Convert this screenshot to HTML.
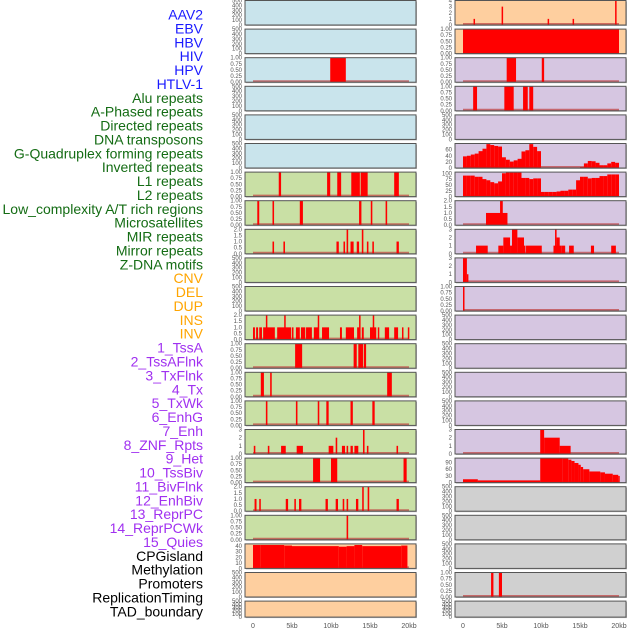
<!DOCTYPE html>
<html><head><meta charset="utf-8"><style>
body{margin:0;background:#fff;width:630px;height:630px;overflow:hidden}
svg text{font-family:"Liberation Sans",sans-serif}
</style></head><body>
<svg id="chart" width="630" height="630" xmlns="http://www.w3.org/2000/svg"></svg>
<script>
// ---- data ----
const trackLabels = ["AAV2","EBV","HBV","HIV","HPV","HTLV-1","Alu repeats","A-Phased repeats","Directed repeats","DNA transposons","G-Quadruplex forming repeats","Inverted repeats","L1 repeats","L2 repeats","Low_complexity A/T rich regions","Microsatellites","MIR repeats","Mirror repeats","Z-DNA motifs","CNV","DEL","DUP","INS","INV","1_TssA","2_TssAFlnk","3_TxFlnk","4_Tx","5_TxWk","6_EnhG","7_Enh","8_ZNF_Rpts","9_Het","10_TssBiv","11_BivFlnk","12_EnhBiv","13_ReprPC","14_ReprPCWk","15_Quies","CPGisland","Methylation","Promoters","ReplicationTiming","TAD_boundary"];
const labelColors = ["#1a1aff","#1a1aff","#1a1aff","#1a1aff","#1a1aff","#1a1aff","#146c14","#146c14","#146c14","#146c14","#146c14","#146c14","#146c14","#146c14","#146c14","#146c14","#146c14","#146c14","#146c14","#ffa500","#ffa500","#ffa500","#ffa500","#ffa500","#a030f0","#a030f0","#a030f0","#a030f0","#a030f0","#a030f0","#a030f0","#a030f0","#a030f0","#a030f0","#a030f0","#a030f0","#a030f0","#a030f0","#a030f0","#000","#000","#000","#000","#000"];
const xTickKb = [0,5,10,15,20];
const xTickLabels = ["0","5kb","10kb","15kb","20kb"];
const tickSets = {
  e:[0,100,200,300,400,500], p:[0,0.25,0.5,0.75,1], h:[0,0.5,1,1.5,2], t:[0,1,2,3], f:[0,1,2,3,4],
  c:[0,10,20,30,40], g:[0,20,40,60], q:[0,25,50,75,100], n:[0,30,60,90]
};
const tickFmt = {e:0,p:2,h:1,t:0,f:0,c:0,g:0,q:0,n:0};
const panelSpec = [
 [0,0,"b","e",500],[0,1,"b","e",500],[0,2,"b","p",1],[0,3,"b","e",500],[0,4,"b","e",500],[0,5,"b","e",500],
 [0,6,"g","p",1],[0,7,"g","p",1],[0,8,"g","h",2],[0,9,"g","e",500],[0,10,"g","e",500],[0,11,"g","h",2],
 [0,12,"g","p",1],[0,13,"g","p",1],[0,14,"g","p",1],[0,15,"g","t",3],[0,16,"g","p",1],[0,17,"g","h",2],
 [0,18,"g","p",1],[0,19,"o","c",44],[0,20,"o","e",500],[0,21,"o","e",500],
 [1,0,"o","f",4],[1,1,"o","p",1],[1,2,"v","p",1],[1,3,"v","p",1],[1,4,"v","e",500],[1,5,"v","g",80],
 [1,6,"v","q",105],[1,7,"v","h",2],[1,8,"v","t",3],[1,9,"v","t",3],[1,10,"v","p",1],[1,11,"v","e",500],
 [1,12,"v","e",500],[1,13,"v","e",500],[1,14,"v","e",500],[1,15,"v","t",3],[1,16,"v","n",110],[1,17,"k","e",500],
 [1,18,"k","e",500],[1,19,"k","e",500],[1,20,"k","p",1],[1,21,"k","e",500]
];
const segHIV = [[9.9,11.9,1]];
const segL1 = [[3.3,3.6,1],[9.5,9.9,1],[10.8,11.3,1],[12.6,13.7,1],[13.8,14.7,1],[18.1,18.7,1]];
const segL2 = [[0.55,0.8,1],[2.5,2.7,1],[6.0,6.4,1],[13.6,13.9,1],[15.1,15.3,1],[17.0,17.2,1]];
const segLowc = [[2.5,2.7,1],[3.9,4.1,1],[10.7,11.0,1],[11.6,11.8,1],[12.0,12.2,2],[12.5,12.9,1],[13.3,13.6,1],[13.95,14.15,2],[14.6,14.8,1],[15.3,15.5,1],[18.4,18.7,1]];
const segMirror = [[0,0.25,1],[0.4,0.65,1],[0.8,1.15,1],[1.3,2.8,1],[1.65,1.8,2],[3.1,4.9,1],[4.0,4.15,2],[5.0,5.15,1],[5.5,6.0,1],[6.15,6.7,1],[6.8,7.55,1],[7.8,8.45,1],[8.3,8.45,2],[8.85,9.75,1],[11.15,11.4,1],[11.9,12.95,1],[13.35,13.7,1],[13.6,13.75,2],[13.95,14.2,1],[15.0,15.8,1],[15.35,15.5,2],[16.0,16.15,1],[16.9,17.45,1],[18.1,18.6,1],[19.1,19.25,1],[19.85,20.0,1]];
const segZdna = [[5.4,6.3,1],[12.9,13.3,1],[13.5,14.1,1],[14.2,14.5,1]];
const segCnv = [[1.0,1.4,1],[2.2,2.4,1],[17.2,17.8,1]];
const segDel = [[1.65,1.85,1],[5.5,5.7,1],[8.3,8.5,1],[9.4,9.7,1],[12.5,12.8,1],[15.3,15.6,1]];
const segDup = [[0.1,0.3,1],[1.9,2.1,1],[3.6,4.2,1],[5.6,6.4,1],[9.7,10.3,1],[10.6,10.8,2],[11.4,11.8,1],[12.0,12.2,1],[12.5,12.8,1],[13.0,13.5,1],[14.1,14.3,3],[14.6,14.8,1],[18.4,18.6,1]];
const segIns = [[7.7,8.6,1],[10.0,10.8,1],[19.3,19.7,1]];
const segInv = [[0.2,0.45,1],[0.8,1.0,1],[4.2,4.5,1],[5.3,5.5,1],[5.9,6.2,1],[9.3,9.6,1],[10.6,10.9,1],[11.5,11.7,1],[12.0,12.2,1],[13.2,13.5,1],[14.0,14.2,2],[14.7,14.9,2],[18.4,18.7,1]];
const segTssA = [[12.0,12.2,1]];
const segCpg = [[0,1,42],[1,4,42],[4,5,41],[5,11,40],[11,12,39],[12,13,40],[13,14,42],[14,19,40],[19,19.8,41]];
const segAav = [[1.35,1.5,1],[4.95,5.1,3],[10.85,11.0,1],[14.05,14.2,1],[19.5,19.65,4]];
const segEbv = [[0,20,1]];
const segHbv = [[5.6,6.8,1],[10.1,10.4,1]];
const segHpv = [[1.3,1.8,1],[5.3,6.5,1],[7.7,8.3,1],[8.5,9.0,1]];
const gqStarts = [0,0.5,1,1.5,2,2.5,3,3.5,4,4.5,5,5.5,6,6.5,7,7.5,8,8.5,9,9.5,15,15.5,16,16.5,17,17.5,18,18.5,19,19.5];
const gqValues = [38,40,44,47,55,63,78,75,72,70,35,27,21,25,30,54,58,78,69,55,3,15,23,22,17,9,9,15,20,17];
const invStarts = [0,0.5,1,1.5,2,2.5,3,3.5,4,4.5,5,5.5,6,6.5,7,7.5,8,8.5,9,9.5,10,10.5,11,11.5,12,12.5,13,13.5,14,14.5,15,15.5,16,16.5,17,17.5,18,18.5,19,19.5];
const invValues = [90,90,90,85,85,75,70,62,57,65,100,103,103,103,103,80,80,75,78,78,20,20,20,20,22,25,25,30,30,70,85,85,78,80,80,88,88,95,95,95];
const segL1r = [[2.95,5.7,1],[4.75,5.1,2]];
const segMirR = [[1.67,3.17,1],[4.53,5.17,1],[5.17,6.03,2],[6.03,6.28,1],[6.28,6.97,3],[6.97,7.82,2],[7.82,7.99,1],[8.08,10.1,1],[11.6,12.6,1],[11.8,12.0,3],[12.0,12.4,2],[12.6,13.1,1],[13.6,14.2,1],[16.4,16.8,1],[19.0,19.6,1]];
const segMirror2 = [[0,0.5,3],[0.5,0.65,1]];
const segZ2 = [[0,0.15,1]];
const seg8Znf = [[9.9,10.4,3],[10.4,12.4,2],[12.4,13.8,1]];
const segHet = [[0,1.9,15],[1.9,9.9,10],[9.9,12.8,110],[12.8,13.5,108],[13.5,13.9,103],[13.9,14.3,97],[14.3,14.8,88],[14.8,15.1,80],[15.1,15.4,70],[15.4,16.2,60],[16.2,17.6,50],[17.6,18.2,46],[18.2,19.2,40],[19.2,19.9,35],[19.9,20.0,30]];
const segProm = [[3.6,3.9,1],[4.6,5.0,1]];
function stepsToSegs(starts, vals){return starts.map((s,i)=>[s,s+0.5,vals[i]]);}
const panelSegs = {
 "0-2":segHIV,"0-6":segL1,"0-7":segL2,"0-8":segLowc,"0-11":segMirror,"0-12":segZdna,"0-13":segCnv,"0-14":segDel,
 "0-15":segDup,"0-16":segIns,"0-17":segInv,"0-18":segTssA,"0-19":segCpg,
 "1-0":segAav,"1-1":segEbv,"1-2":segHbv,"1-3":segHpv,"1-5":stepsToSegs(gqStarts,gqValues),"1-6":stepsToSegs(invStarts,invValues),
 "1-7":segL1r,"1-8":segMirR,"1-9":segMirror2,"1-10":segZ2,"1-15":seg8Znf,"1-16":segHet,"1-20":segProm
};
// ---- drawing ----
const NS="http://www.w3.org/2000/svg";
const svg=document.getElementById('chart');
function mk(tag,attrs,parent){const e=document.createElementNS(NS,tag);for(const k in attrs)e.setAttribute(k,attrs[k]);(parent||svg).appendChild(e);return e;}
const bgColors={b:"#c9e4ec",g:"#c9e0a5",o:"#fecf9f",v:"#d6c6e1",k:"#d0d0d0"};
const colLeft=[245,455];
const panelW=171;
function xScale(col,kb){return colLeft[col]+8+kb*7.8;}
function rowTop(r){return 0.5+r*28.6;}
function rowH(r){return r===21?16:24.5;}

trackLabels.forEach((t,i)=>{
  const e=mk('text',{x:203,y:19.5+i*13.88,'text-anchor':'end','font-size':14,fill:labelColors[i]});
  e.textContent=t;
  
  
});

panelSpec.forEach(([col,row,bg,ts,ymax])=>{
  const g=mk('g',{});
  
  
  const top=rowTop(row),h=rowH(row),x0=colLeft[col];
  mk('rect',{x:x0+1,y:top+1,width:panelW,height:h,fill:'#bbb'},g);
  const bgr=mk('rect',{x:x0,y:top,width:panelW,height:h,fill:bgColors[bg]},g);
  
  
  const y=v=>top+h-(v/ymax)*h;
  const segs=panelSegs[col+'-'+row];
  if(segs){
    mk('line',{x1:xScale(col,0),x2:xScale(col,20),y1:top+h-1,y2:top+h-1,stroke:'#c04040','stroke-width':2,opacity:0.7},g);
    segs.forEach(([s,e,v])=>{
      const r=mk('rect',{x:xScale(col,s),y:y(v),width:Math.max(1.5,xScale(col,e)-xScale(col,s)),height:top+h-y(v),fill:'#ff0000'},g);
      
      
    });
  }
  mk('rect',{x:x0,y:top,width:panelW,height:h,fill:'none',stroke:'#555','stroke-width':1},g);
  tickSets[ts].forEach(v=>{
    if(v>ymax)return;
    const t=mk('text',{x:x0-3,y:y(v)+2,'text-anchor':'end','font-size':6,fill:'#555'},g);
    t.textContent=v.toFixed(tickFmt[ts]);
    
    
  });
});

[0,1].forEach(col=>{
  xTickKb.forEach((k,i)=>{
    const t=mk('text',{x:xScale(col,k),y:628,'text-anchor':'middle','font-size':7,fill:'#555'});
    t.textContent=xTickLabels[i];
    
    
  });
});
</script>
</body></html>
